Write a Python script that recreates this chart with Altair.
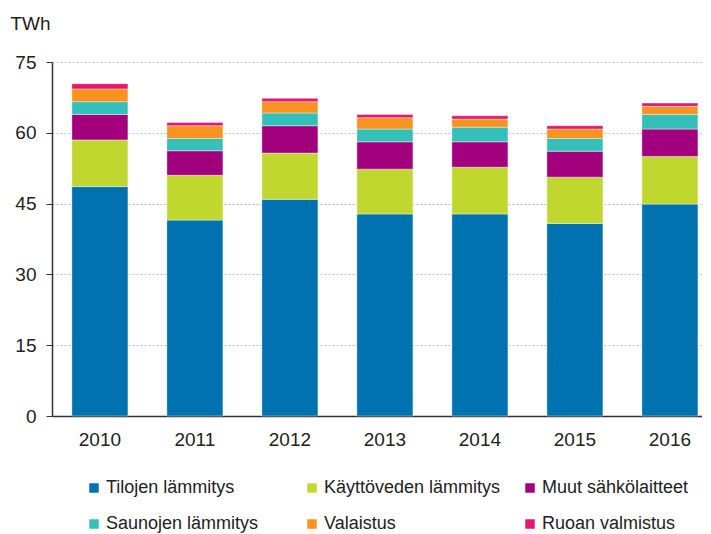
import altair as alt
import pandas as pd

years = ["2010", "2011", "2012", "2013", "2014", "2015", "2016"]
categories = ["Tilojen lämmitys", "Käyttöveden lämmitys", "Muut sähkölaitteet",
              "Saunojen lämmitys", "Valaistus", "Ruoan valmistus"]
colors = ["#0072b0", "#c0d72f", "#a3007d", "#34c0b9", "#f7931e", "#e5176f"]

tilojen = [48.6, 41.5, 45.9, 42.8, 42.8, 40.8, 44.9]
kayttovesi = [9.9, 9.5, 9.8, 9.5, 9.9, 9.8, 10.1]
muut = [5.4, 5.2, 5.8, 5.8, 5.4, 5.5, 5.8]
saunat = [2.7, 2.6, 2.7, 2.7, 3.1, 2.7, 3.1]
valaistus = [2.7, 2.7, 2.4, 2.4, 1.7, 2.0, 1.7]
ruoka = [1.1, 0.7, 0.7, 0.7, 0.7, 0.7, 0.7]

series = [tilojen, kayttovesi, muut, saunat, valaistus, ruoka]
rows = []
for ci, (cat, vals) in enumerate(zip(categories, series)):
    for y, v in zip(years, vals):
        rows.append({"Vuosi": y, "Luokka": cat, "TWh": v, "jarj": ci})
df = pd.DataFrame(rows)

font = "Liberation Sans"

chart = alt.Chart(df).mark_bar(stroke="white", strokeWidth=0.4).encode(
    x=alt.X("Vuosi:N",
            scale=alt.Scale(paddingInner=0.41, paddingOuter=0.126, align=0.83),
            axis=alt.Axis(title=None, labelAngle=0, ticks=False, domainColor="#333333",
                          domainWidth=1.5, labelPadding=14, labelFontSize=19,
                          labelColor="#222222", labelFont=font)),
    y=alt.Y("TWh:Q", stack="zero",
            scale=alt.Scale(domain=[0, 75], nice=False),
            axis=alt.Axis(values=[0, 15, 30, 45, 60, 75], title="TWh", titleAngle=0,
                          titleAlign="left", titleBaseline="alphabetic",
                          titleX=-42, titleY=-33, titleFontSize=19,
                          titleFontWeight="normal", titleColor="#222222", titleFont=font,
                          labelFontSize=19, labelColor="#222222", labelFont=font,
                          labelPadding=10, tickSize=6, tickColor="#333333",
                          domainColor="#333333", domainWidth=1.5,
                          grid=True, gridColor="#bbbbbb", gridDash=[2, 2], gridWidth=1)),
    color=alt.Color("Luokka:N",
                    scale=alt.Scale(domain=categories, range=colors),
                    legend=alt.Legend(title=None, orient="none", legendX=33, legendY=417,
                                      columns=3, direction="horizontal",
                                      symbolType="square", symbolSize=90,
                                      symbolStrokeWidth=0, labelFontSize=18,
                                      labelFont=font, labelColor="#222222",
                                      gridAlign="all",
                                      columnPadding=20, rowPadding=18,
                                      labelOffset=3, labelLimit=300)),
    order=alt.Order("jarj:Q", sort="ascending"),
).properties(
    width=650, height=354,
    autosize=alt.AutoSizeParams(type="none"),
    padding={"left": 44, "top": 54, "right": 0, "bottom": 118},
).configure_view(stroke=None)

chart.save("out.html", embed_options={"renderer": "svg", "actions": False})
